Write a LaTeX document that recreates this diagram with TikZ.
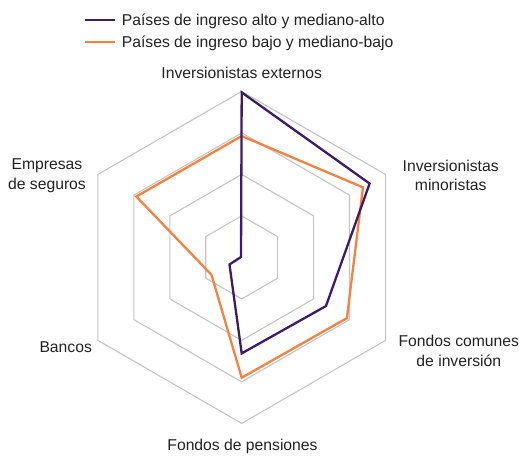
\documentclass[tikz,border=0pt]{standalone}
\usepackage{fontspec}
\setmainfont{Liberation Sans}
\definecolor{hipurple}{HTML}{3F1A6B}
\definecolor{loorange}{HTML}{F7813E}
\definecolor{gridgray}{HTML}{C4C4C4}
\definecolor{txtgray}{HTML}{222222}
\tikzset{
  gridline/.style={draw=gridgray, line width=1.1pt},
  hiline/.style={draw=hipurple, line width=2.3pt, line join=miter},
  loline/.style={draw=loorange, line width=2.3pt, line join=miter},
  lbl/.style={font=\fontsize{15.7}{19}\selectfont, text=txtgray, inner sep=0pt, anchor=base},
  lglbl/.style={lbl, anchor=base west},
}
\begin{document}
\begin{tikzpicture}[x=1pt,y=1pt]
\useasboundingbox (0,0) rectangle (520,456);
\begin{scope}[shift={(241.7,198.6)}]
  \foreach \r in {41.5,83,124.5,166}
    \draw[gridline] (90:\r) -- (30:\r) -- (-30:\r) -- (-90:\r) -- (210:\r) -- (150:\r) -- cycle;
  % low income
  \coordinate (lA) at (90:121.4);
  \coordinate (lB) at (30:140);
  \coordinate (lC) at (-30:121.5);
  \coordinate (lD) at (-90:120.3);
  \coordinate (lE) at (210:34.9);
  \coordinate (lF) at (150:121.7);
  % high income
  \coordinate (hA) at (90:165);
  \coordinate (hB) at (30:147.7);
  \coordinate (hC) at (-30:97.3);
  \coordinate (hD) at (-90:96);
  \coordinate (hE) at (210:14.1);
  \coordinate (hF) at (150:0.8);
\end{scope}
\draw[loline] (lA) -- (lB) -- (lC) -- (lD) -- (lE) -- (lF) -- cycle;
\draw[hiline] (hA) -- (hB) -- (hC) -- (hD) -- (hE) -- (hF) -- cycle;

% axis labels
\node[lbl] (ext) at (241.7,377.7) {Inversionistas externos};
\node[lbl] (min1) at (450.7,284.3) {Inversionistas};
\node[lbl] (min2) at (450.7,265.5) {minoristas};
\node[lbl] (fci1) at (458.8,109.3) {Fondos comunes};
\node[lbl] (fci2) at (458.8,89.3) {de inversión};
\node[lbl] (pen) at (242.5,6) {Fondos de pensiones};
\node[lbl] (ban) at (65.7,103.7) {Bancos};
\node[lbl] (seg1) at (47,286) {Empresas};
\node[lbl] (seg2) at (47,266) {de seguros};

% legend
\coordinate (lg1a) at (85,436);
\coordinate (lg1b) at (115,436);
\coordinate (lg2a) at (85,414.3);
\coordinate (lg2b) at (115,414.3);
\draw[draw=hipurple, line width=2.3pt] (lg1a) -- (lg1b);
\draw[draw=loorange, line width=2.3pt] (lg2a) -- (lg2b);
\node[lglbl] (leg1) at (121.7,430) {Países de ingreso alto y mediano-alto};
\node[lglbl] (leg2) at (121.7,408.3) {Países de ingreso bajo y mediano-bajo};
\end{tikzpicture}
\end{document}
